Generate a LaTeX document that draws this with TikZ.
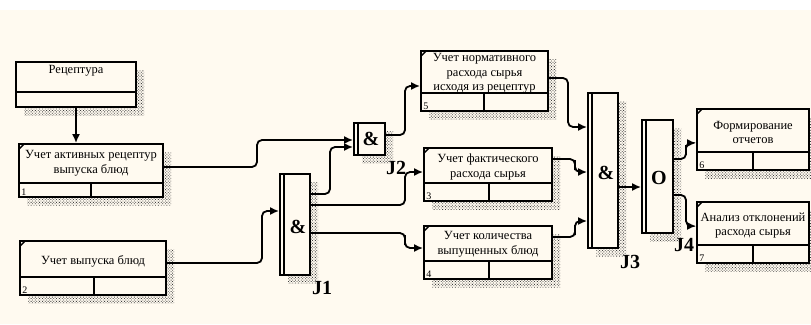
\documentclass[tikz,border=0pt]{standalone}
\usepackage{fontspec}
\setmainfont{Liberation Serif}
\usetikzlibrary{positioning, arrows.meta, shadows, patterns.meta, backgrounds}
\definecolor{cream}{RGB}{255,250,240}

\begin{document}
\begin{tikzpicture}[x=1pt, y=-1pt,
    box/.style = {draw, line width=1.8pt, fill=cream, inner sep=0pt,
        general shadow={shadow xshift=8pt, shadow yshift=-8pt,
            pattern={Dots[distance=2pt, radius=0.6pt, angle=45]}, pattern color=black!75}},
    txt/.style = {align=center, inner sep=0pt, font=\fontsize{12.5}{14.5}\selectfont},
    num/.style = {anchor=south west, inner sep=0pt, font=\fontsize{10}{10}\selectfont},
    jlab/.style = {inner sep=0pt, font=\fontsize{20}{20}\selectfont\bfseries},
    link/.style = {line width=1.8pt, rounded corners=5pt, -{Latex[length=9pt, width=8pt]}}]
    \useasboundingbox (0,0) rectangle (811,324);

    % source of recipes
    \node[box, minimum width=120, minimum height=45] (rec) at (76,84.5) {};
    \draw[line width=1.8pt] (rec.west |- 0,92) -- (rec.east |- 0,92);
    \node[txt] (rect) at (76,71) {Рецептура};

    % activity boxes: name/x/y/width/height/footer/divider/number
    \foreach \n/\x/\y/\w/\h/\f/\v/\k in {b1/91/170.5/144/53/183/91/1,
        b2/93/268/146/54/277/94/2, b5/484.5/81/127/60/93/484/5,
        b3/488/174.5/128/53/183/489/3, b4/488/252.5/128/53/261/489/4,
        b6/753/139.5/112/61/152/753/6, b7/753/232.5/112/61/245/753/7} {
        \node[box, minimum width=\w, minimum height=\h] (\n) at (\x,\y) {};
        \draw[line width=1.8pt] (\n.west |- 0,\f) -- (\n.east |- 0,\f);
        \draw[line width=1.8pt] (\v,\f) -- (\v,\f |- \n.south);
        \draw[line width=1.4pt] ([xshift=1pt, yshift=-6pt]\n.north west)
            -- ([xshift=6pt, yshift=-1pt]\n.north west);
        \node[num] (\n n) at ([shift={(3pt,2pt)}]\n.south west) {\k};
    }
    \node[txt] (b1t) at (91,163.5) {Учет активных рецептур\\выпуска блюд};
    \node[txt] (b2t) at (93,261) {Учет выпуска блюд};
    \node[txt] (b5t) at (484.5,73.5) {Учет нормативного\\расхода сырья\\исходя из рецептур};
    \node[txt] (b3t) at (488,167) {Учет фактического\\расхода сырья};
    \node[txt] (b4t) at (488,244.5) {Учет количества\\выпущенных блюд};
    \node[txt] (b6t) at (753,132.5) {Формирование\\отчетов};
    \node[txt] (b7t) at (753,225.5) {Анализ отклонений\\расхода сырья};

    % junctions
    \node[box, minimum width=30, minimum height=101] (j1) at (295,224.5) {};
    \node[box, minimum width=31, minimum height=32] (j2) at (369.5,139) {};
    \node[box, minimum width=30, minimum height=155] (j3) at (603,170.5) {};
    \node[box, minimum width=31, minimum height=113] (j4) at (657.5,176.5) {};
    \foreach \j in {j1,j2,j3,j4}
        \draw[line width=1.4pt] ([xshift=5pt]\j.north west) -- ([xshift=5pt]\j.south west);
    \node[jlab] (j1s) at (298,227) {\&};
    \node[jlab] (j2s) at (371,139) {\&};
    \node[jlab] (j3s) at (606,173) {\&};
    \node[jlab] (j4s) at (659,178) {O};
    \node[jlab] (j1l) at (322,288) {J1};
    \node[jlab] (j2l) at (396,168) {J2};
    \node[jlab] (j3l) at (630,262) {J3};
    \node[jlab] (j4l) at (684,245) {J4};

    % connectors
    \draw[link] (rec.south) -- (rec.south |- b1.north);
    \draw[link] (b1.east |- 0,167) -| (257,150) |- (j2.west |- 0,140);
    \draw[link] (b2.east |- 0,263) -| (262,240) |- (j1.west |- 0,211);
    \draw[link] (j1.east |- 0,194) -| (330,170) |- (j2.west |- 0,147);
    \draw[link] (j2.east |- 0,135) -| (405,110) |- (b5.west |- 0,86);
    \draw[link] (j1.east |- 0,205) -| (405,190) |- (b3.west |- 0,172);
    \draw[link] (j1.east |- 0,233) -| (405,240) |- (b4.west |- 0,248);
    \draw[link] (b5.east |- 0,78) -| (568,100) |- (j3.west |- 0,127);
    \draw[link] (b3.east |- 0,159) -| (575,165) |- (j3.west |- 0,172);
    \draw[link] (b4.east |- 0,237) -| (575,230) |- (j3.west |- 0,221);
    \draw[link] (j3.east |- 0,187) -- (j4.west |- 0,187);
    \draw[link] (j4.east |- 0,159) -| (686,150) |- (b6.west |- 0,143);
    \draw[link] (j4.east |- 0,195) -| (686,210) |- (b7.west |- 0,226);

    \begin{scope}[on background layer]
        \fill[cream] (0,10) rectangle (811,324);
    \end{scope}
\end{tikzpicture}
\end{document}
